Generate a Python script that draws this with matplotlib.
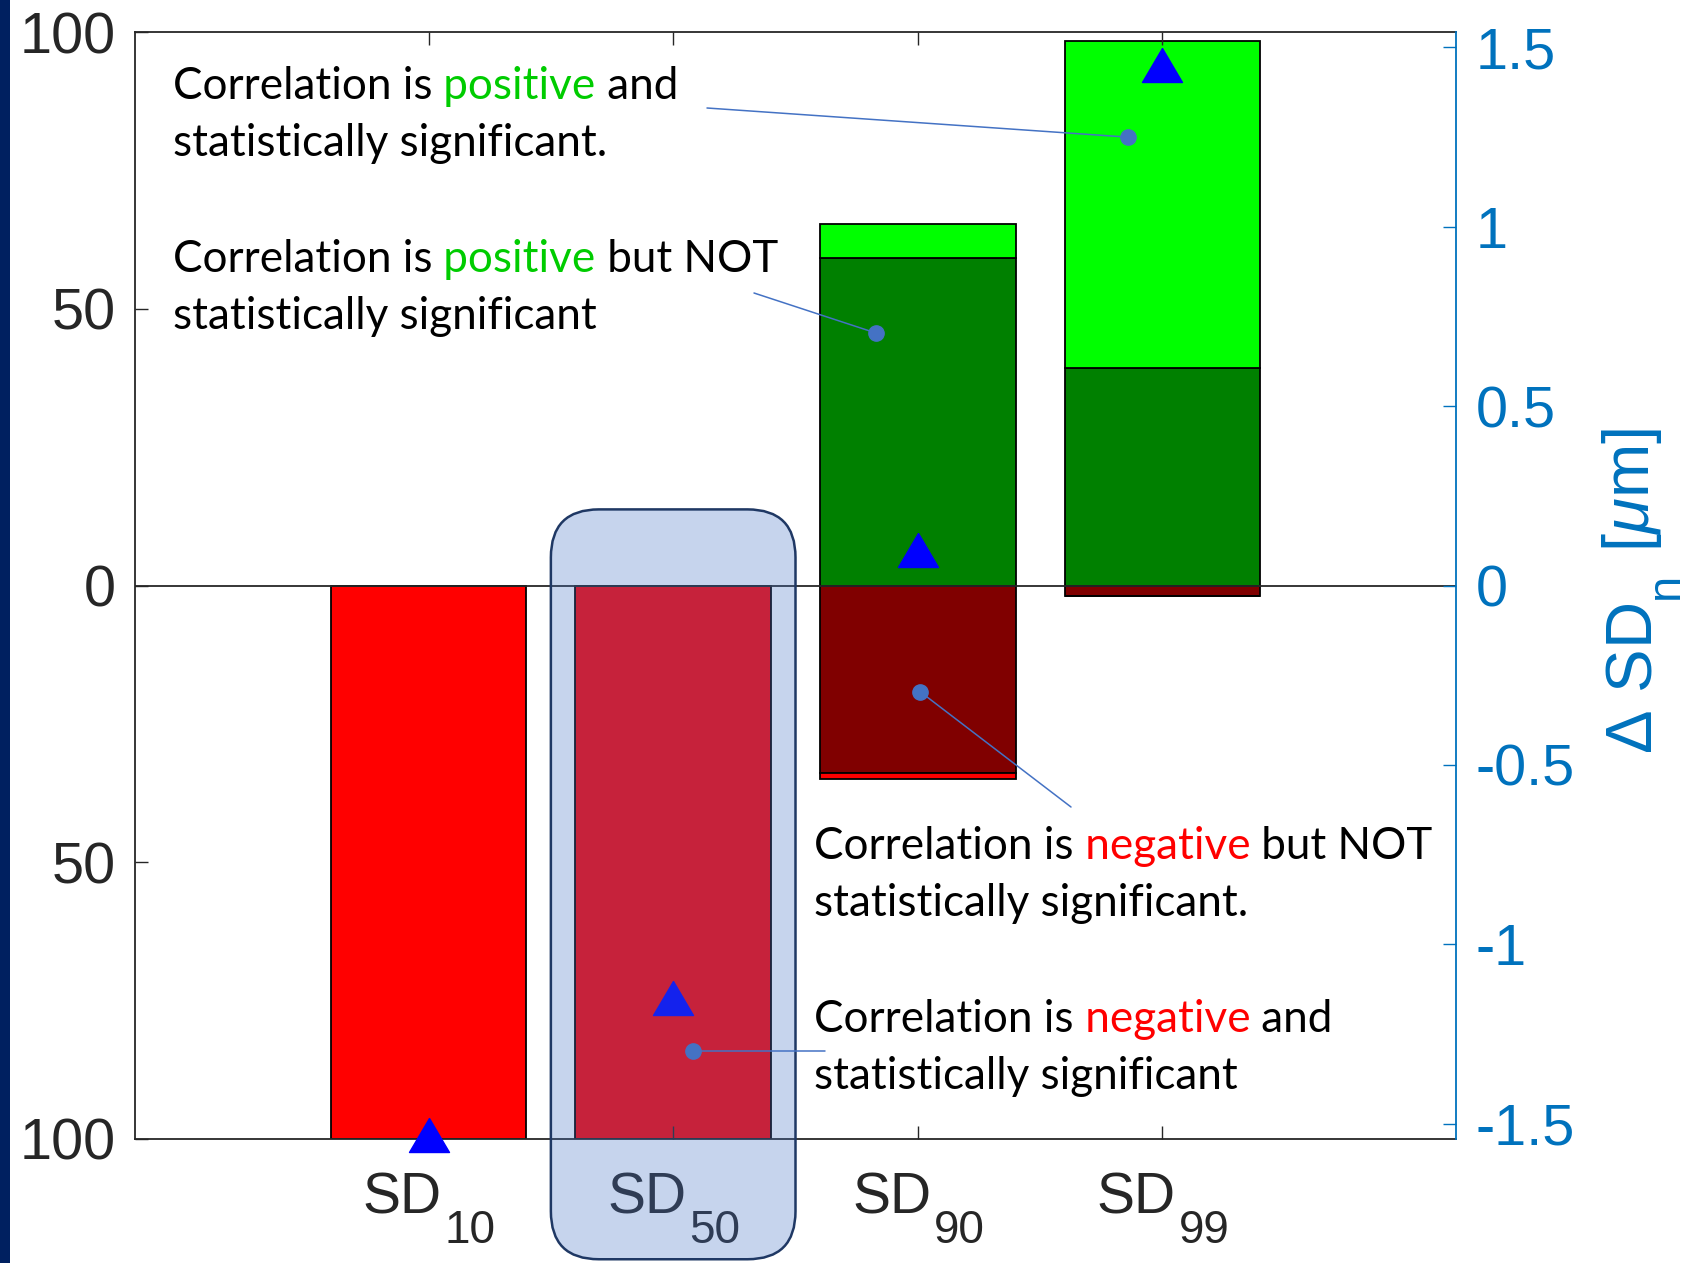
import matplotlib
matplotlib.use('Agg')
import matplotlib.pyplot as plt
import numpy as np
from matplotlib.patches import FancyBboxPatch, Rectangle

W, H, DPI = 1688, 1263, 100

plt.rcParams['font.family'] = 'Liberation Sans'
plt.rcParams['mathtext.fontset'] = 'custom'
plt.rcParams['mathtext.rm'] = 'Liberation Sans'
plt.rcParams['mathtext.it'] = 'Liberation Sans:italic'

# share of samples (%) per correlation class, per size descriptor
categories = ['10', '50', '90', '99']
pos_nonsig = [0, 0, 59.1, 39.3]      # positive, not significant (dark green)
pos_sig = [0, 0, 6.2, 59.1]          # positive, significant (light green)
neg_nonsig = [0, 0, -33.8, -1.9]     # negative, not significant (dark red)
neg_sig = [-100, -100, -1.2, 0]      # negative, significant (red)

# change of the size descriptor, right axis [um]
delta_sd = [-1.53, -1.15, 0.10, 1.45]

left_ticks = [-100, -50, 0, 50, 100]
left_ticklabels = ['100', '50', '0', '50', '100']
right_ticks = [-1.5, -1, -0.5, 0, 0.5, 1, 1.5]
right_ticklabels = ['-1.5', '-1', '-0.5', '0', '0.5', '1', '1.5']

AX_COL = '#262626'
RIGHT_COL = '#0072BD'
NOTE_COL = '#4472C4'
TICK_FS = 41.5

fig = plt.figure(figsize=(W / DPI, H / DPI), dpi=DPI, facecolor='white')
ax = fig.add_axes([135 / W, 124 / H, 1321 / W, 1107 / H])

x = np.arange(1, len(categories) + 1)
bw = 0.8
bar_kw = dict(width=bw, edgecolor='black', linewidth=1.3)
ax.bar(x, pos_nonsig, color='#008000', **bar_kw)
ax.bar(x, pos_sig, bottom=pos_nonsig, color='#00FF00', **bar_kw)
ax.bar(x, neg_nonsig, color='#800000', **bar_kw)
ax.bar(x, neg_sig, bottom=neg_nonsig, color='#FF0000', **bar_kw)
ax.axhline(0, color=AX_COL, linewidth=1.3, zorder=2)

ax.set_xlim(-0.2, 5.2)
ax.set_ylim(-100, 100)
ax.set_xticks(x)
ax.set_xticklabels([''] * len(x))
ax.set_yticks(left_ticks)
ax.set_yticklabels(left_ticklabels)
ax.tick_params(axis='x', direction='in', top=True, bottom=True, length=9.4,
               width=1.0, color=AX_COL)
ax.tick_params(axis='y', direction='in', left=True, right=False, length=9.4,
               width=1.0, color=AX_COL, labelcolor=AX_COL, labelsize=TICK_FS,
               pad=14)
for side in ['left', 'top', 'bottom']:
    ax.spines[side].set_color(AX_COL)
    ax.spines[side].set_linewidth(1.3)
ax.spines['right'].set_visible(False)

# category labels "SD" with a large subscript
for xi, c in zip(x, categories):
    ax.annotate('SD', xy=(xi, 0), xycoords=('data', 'axes fraction'),
                xytext=(9.6, -53.3), textcoords='offset points',
                ha='right', va='baseline', fontsize=41, color=AX_COL)
    ax.annotate(c, xy=(xi, 0), xycoords=('data', 'axes fraction'),
                xytext=(11.8, -74.9), textcoords='offset points',
                ha='left', va='baseline', fontsize=33, color=AX_COL)

# right axis: change of SD_n
ax2 = ax.twinx()
ax2.set_ylim(-1.542, 1.542)
ax2.set_yticks(right_ticks)
ax2.set_yticklabels(right_ticklabels)
ax2.tick_params(axis='y', direction='in', length=9.4, width=1.0,
                colors=RIGHT_COL, labelsize=TICK_FS, pad=14)
for side in ['left', 'top', 'bottom']:
    ax2.spines[side].set_visible(False)
ax2.spines['right'].set_color(RIGHT_COL)
ax2.spines['right'].set_linewidth(1.3)

tri = [(0, 0.85), (-1, -0.85), (1, -0.85), (0, 0.85)]
ax2.plot(x, delta_sd, linestyle='none', marker=tri, markersize=28.8,
         color='#0000FF', markeredgewidth=1, clip_on=False, zorder=4)

# rotated axis title built from pieces so the subscript sits low and large
lab1 = fig.text(1604 / W, 1 - 754 / H, r'$\Delta$ SD', rotation=90,
                ha='left', va='bottom', fontsize=47, color=RIGHT_COL)
lab2 = ax2.annotate('n', xy=(1, 1), xycoords=lab1, xytext=(17.5, 2.5),
                    textcoords='offset points', rotation=90, ha='right',
                    va='bottom', fontsize=34, color=RIGHT_COL,
                    annotation_clip=False)
ax2.annotate(r' [$\mu$m]', xy=(1, 1), xycoords=(lab1, lab2), xytext=(0, 2),
             textcoords='offset points', rotation=90, ha='right', va='bottom',
             fontsize=47, color=RIGHT_COL, annotation_clip=False)

# highlight around SD50
hl = FancyBboxPatch((1.5, -1.877), 1.0, 2.089,
                    boxstyle='round,pad=0,rounding_size=0.196',
                    mutation_aspect=0.6825,
                    facecolor=(68 / 255, 114 / 255, 196 / 255, 0.3),
                    edgecolor='#1F3864', linewidth=1.8,
                    clip_on=False, zorder=5)
ax2.add_patch(hl)

# pointers from the notes to the bar segments (left-axis units)
pointers = [
    ((3.86, 81.0), (707, 108)),
    ((2.83, 45.6), (754, 293)),
    ((3.01, -19.2), (1071, 807)),
    ((2.08, -84.1), (825, 1051)),
]
for (px, py), (tx, ty) in pointers:
    ax2.annotate('', xy=(px, py), xycoords=ax.transData,
                 xytext=(tx, H - ty), textcoords='figure pixels',
                 arrowprops=dict(arrowstyle='-', color=NOTE_COL, lw=1.1,
                                 shrinkA=0, shrinkB=0),
                 annotation_clip=False, zorder=6)
    ax2.plot(px, py, 'o', markersize=11, color=NOTE_COL, transform=ax.transData,
             clip_on=False, zorder=7)

NOTE_KW = dict(family='Lato', fontsize=31.7, zorder=8, annotation_clip=False)


def note(xp, yp, pieces, second):
    prev = ax2.annotate(pieces[0][0], xy=(xp, H - yp), xycoords='figure pixels',
                        va='baseline', ha='left', color=pieces[0][1], **NOTE_KW)
    for s, col in pieces[1:]:
        prev = ax2.annotate(s, xy=(1, 0), xycoords=prev, va='bottom',
                            ha='left', color=col, **NOTE_KW)
    ax2.annotate(second, xy=(xp, H - yp - 57), xycoords='figure pixels',
                 va='baseline', ha='left', color='black', **NOTE_KW)


GREEN_TXT = '#00CC00'
RED_TXT = '#FF0000'
note(173, 99, [('Correlation is', 'black'), (' positive', GREEN_TXT), (' and', 'black')],
     'statistically significant.')
note(173, 272, [('Correlation is', 'black'), (' positive', GREEN_TXT), (' but NOT', 'black')],
     'statistically significant')
note(814, 859, [('Correlation is', 'black'), (' negative', RED_TXT), (' but NOT', 'black')],
     'statistically significant.')
note(814, 1032, [('Correlation is', 'black'), (' negative', RED_TXT), (' and', 'black')],
     'statistically significant')

# slide edge band
fig.add_artist(Rectangle((0, 0), 10 / W, 1, transform=fig.transFigure,
                         facecolor='#002060', edgecolor='none'))

fig.savefig('out.png', dpi=DPI)
